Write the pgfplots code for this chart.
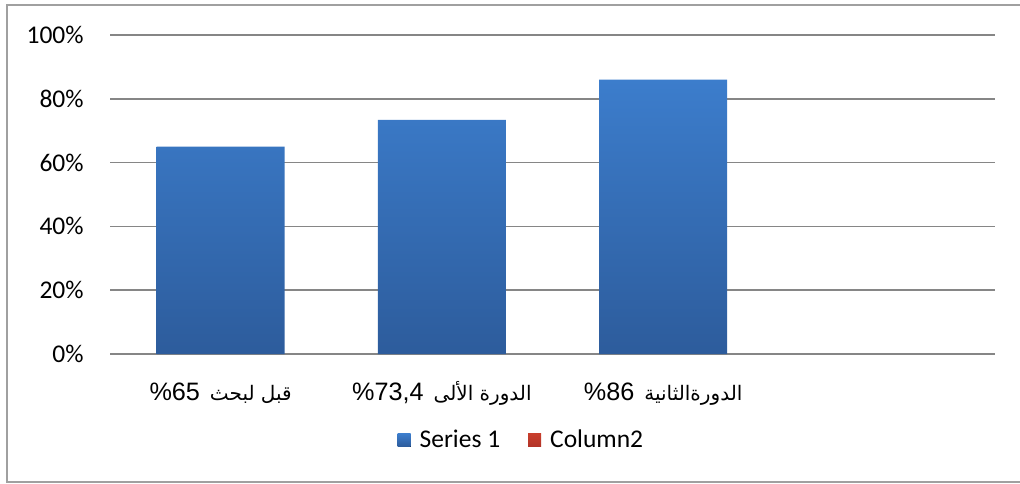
\documentclass[border=0pt]{standalone}
\usepackage{pgfplots}
\pgfplotsset{compat=1.18}
\usepackage{fontspec}
\setmainfont{Carlito}
\newfontfamily\arialfont{Liberation Sans}
\newfontfamily\arabicfont[Script=Arabic]{DejaVu Sans}
\TeXXeTstate=1
\newcommand{\ar}[1]{{\arabicfont\fontsize{10}{12}\selectfont\beginR #1\endR}}
\definecolor{bartop}{RGB}{60,125,204}
\definecolor{barbot}{RGB}{45,92,156}
\definecolor{redtop}{RGB}{200,62,44}
\definecolor{redbot}{RGB}{178,52,40}
\definecolor{gridc}{RGB}{134,134,134}
\definecolor{framec}{RGB}{160,160,160}
\pgfplotsset{
  sqlegend/.style={legend image code/.code={\fill[##1] (0pt,-3.25pt) rectangle (6.5pt,3.25pt);}},
}
\begin{document}
\begin{tikzpicture}
\useasboundingbox (0,0) rectangle (510pt,241.5pt);
\draw[framec, line width=0.75pt] (512pt,239pt) -- (3.5pt,239pt) -- (3.5pt,0.6pt) -- (512pt,0.6pt);
\begin{axis}[
  at={(55pt,64.5pt)}, anchor=south west,
  scale only axis, width=442.5pt, height=159.5pt,
  xmin=-0.5, xmax=3.5, ymin=0, ymax=100,
  axis line style={draw=none},
  axis x line*=bottom,
  ytick={0,20,40,60,80,100},
  yticklabels={0\%,20\%,40\%,60\%,80\%,100\%},
  yticklabel style={anchor=east, inner sep=0pt, xshift=-13pt, font=\fontsize{12.75}{14}\selectfont},
  ymajorgrids, grid style={gridc, line width=0.75pt},
  major tick length=0pt,
  xtick={0,1,2},
  xticklabels={
    {\%65\hspace{5pt}\ar{قبل لبحث}},
    {\%73,4\hspace{5pt}\ar{الدورة الألى}},
    {\%86\hspace{5pt}\ar{الدورةالثانية}}
  },
  xticklabel style={anchor=base, inner sep=0pt, yshift=-23pt, font=\arialfont\fontsize{12.6}{14}\selectfont},
  legend style={at={(0.466,-0.27)}, anchor=center, draw=none, fill=none,
    legend columns=2, font=\fontsize{12.75}{14}\selectfont,
    /tikz/every odd column/.append style={column sep=2.5pt},
    /tikz/every even column/.append style={column sep=12pt},
    legend cell align=left},
]
\draw[gridc, line width=0.75pt] (axis cs:-0.5,0) -- (axis cs:3.5,0);
\addplot[ybar, bar width=0.578, draw=none, top color=bartop, bottom color=barbot, sqlegend]
  coordinates {(0,65) (1,73.4) (2,86)};
\addlegendentry{Series 1}
\addlegendimage{top color=redtop, bottom color=redbot, draw=none, sqlegend}
\addlegendentry{Column2}
\end{axis}
\end{tikzpicture}
\end{document}
